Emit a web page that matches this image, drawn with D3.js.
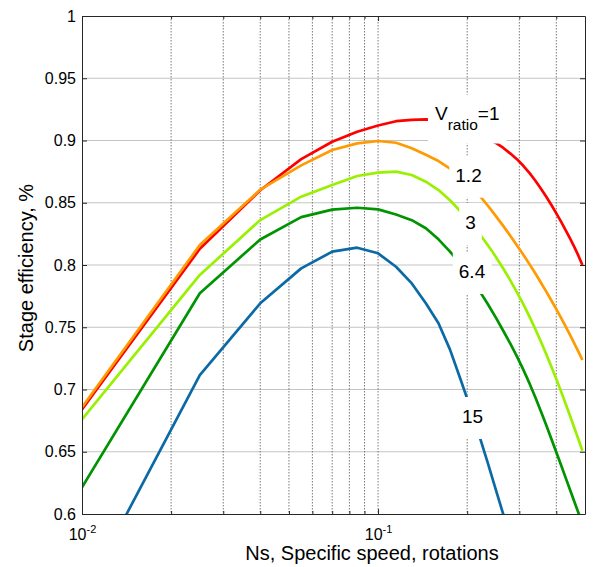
<!DOCTYPE html>
<html>
<head>
<meta charset="utf-8">
<script src="https://cdn.jsdelivr.net/npm/d3@7"></script>
<style>
  body { margin: 0; background: #fff; }
  svg { display: block; }
  text { font-family: "Liberation Sans", Arial, Helvetica, sans-serif; fill: #000; }
</style>
</head>
<body>
<svg id="chart" width="600" height="567"></svg>
<script>
// Specific speed samples (rotations)
const ns = [0.01, 0.025, 0.04, 0.055, 0.07, 0.085, 0.1, 0.115, 0.13, 0.145, 0.16,
            0.175, 0.19, 0.205, 0.22, 0.235, 0.25, 0.265, 0.28, 0.295, 0.31, 0.325,
            0.34, 0.355, 0.37, 0.385, 0.4, 0.415, 0.43, 0.445, 0.46, 0.475, 0.49];

// Stage efficiency for each velocity ratio
const effRatio1 = [0.684, 0.813, 0.860, 0.885, 0.899, 0.907, 0.912, 0.9155, 0.9165, 0.917, 0.9158,
                   0.9135, 0.911, 0.908, 0.905, 0.9015, 0.898, 0.894, 0.8895, 0.8848, 0.8795, 0.8738,
                   0.8677, 0.8613, 0.8548, 0.8482, 0.8415, 0.8348, 0.828, 0.8213, 0.8145, 0.8075, 0.800];
const effRatio1_2 = [0.6857, 0.816, 0.8605, 0.880, 0.8924, 0.8977, 0.8996, 0.8982, 0.8937, 0.8885, 0.8835,
                     0.8775, 0.871, 0.864, 0.856, 0.8476, 0.8393, 0.8312, 0.8233, 0.8155, 0.808, 0.8005,
                     0.7931, 0.7857, 0.7786, 0.7715, 0.7645, 0.7576, 0.7507, 0.7439, 0.737, 0.7304, 0.7237];
const effRatio3 = [0.676, 0.792, 0.8361, 0.8549, 0.8643, 0.8715, 0.8742, 0.875, 0.8723, 0.8669, 0.8602,
                   0.852, 0.843, 0.834, 0.825, 0.8159, 0.8065, 0.797, 0.7874, 0.7778, 0.7682, 0.7583,
                   0.7484, 0.7383, 0.7283, 0.7183, 0.7084, 0.6985, 0.6886, 0.6789, 0.6693, 0.660, 0.6508];
const effRatio6_4 = [0.6214, 0.7773, 0.8205, 0.8385, 0.8445, 0.846, 0.8447, 0.8405, 0.836, 0.8295, 0.8206,
                     0.8108, 0.8005, 0.7899, 0.7792, 0.7685, 0.7577, 0.747, 0.7366, 0.7262, 0.7155, 0.7047,
                     0.6936, 0.6824, 0.6713, 0.6603, 0.6496, 0.6393, 0.6292, 0.6195, 0.610, 0.601, 0.5922];
const effRatio15 = [0.532, 0.7116, 0.7692, 0.7973, 0.8107, 0.8139, 0.8094, 0.7986, 0.7852, 0.7692, 0.7532,
                    0.732, 0.708, 0.6852, 0.6626, 0.6406, 0.6194, 0.5995, 0.578];

const ratioLabels = ["1", "1.2", "3", "6.4", "15"];

// Axis ticks
const yTicks = [0.6, 0.65, 0.7, 0.75, 0.8, 0.85, 0.9, 0.95, 1];
const yTickLabels = ["0.6", "0.65", "0.7", "0.75", "0.8", "0.85", "0.9", "0.95", "1"];
const xMajorTicks = [0.01, 0.1];
const xMajorExponents = ["-2", "-1"];
const xMinorTicks = [0.02, 0.03, 0.04, 0.05, 0.06, 0.07, 0.08, 0.09, 0.2, 0.3, 0.4];

// ---- styling / layout ----
const seriesValues = [effRatio1, effRatio1_2, effRatio3, effRatio6_4, effRatio15];
const seriesColors = ["#ff0000", "#ff9a00", "#99f000", "#009400", "#0b6aa6"];
// label anchor (x, baseline y) for each curve label
const labelPos = [[435, 119.5], [468.5, 181.7], [470.5, 229], [472, 278], [472.5, 423]];

const plot = { left: 82, top: 16, right: 585, bottom: 514 };

const svg = d3.select("#chart");

const x = d3.scaleLog().domain([0.01, 0.5]).range([plot.left, plot.right]);
const y = d3.scaleLinear().domain([0.6, 1]).range([plot.bottom, plot.top]);

svg.append("defs").append("clipPath").attr("id", "plotClip")
  .append("rect")
  .attr("x", plot.left).attr("y", plot.top)
  .attr("width", plot.right - plot.left).attr("height", plot.bottom - plot.top);

// grid
const grid = svg.append("g");
grid.selectAll("line.hg").data(yTicks.slice(1, -1)).join("line")
  .attr("x1", plot.left).attr("x2", plot.right)
  .attr("y1", d => y(d)).attr("y2", d => y(d))
  .attr("stroke", "#c4c4c4").attr("stroke-width", 1);
grid.selectAll("line.vg").data(xMinorTicks.concat([0.1])).join("line")
  .attr("x1", d => x(d)).attr("x2", d => x(d))
  .attr("y1", plot.top).attr("y2", plot.bottom)
  .attr("stroke", "#6a6a6a").attr("stroke-width", 0.9)
  .attr("stroke-dasharray", "1.5,1.5");

// curves
const line = d3.line().x(d => x(d[0])).y(d => y(d[1]));
const curves = svg.append("g").attr("clip-path", "url(#plotClip)");
seriesValues.forEach((vals, i) => {
  curves.append("path")
    .datum(d3.zip(ns.slice(0, vals.length), vals))
    .attr("d", line)
    .attr("fill", "none")
    .attr("stroke", seriesColors[i])
    .attr("stroke-width", 2.7)
    .attr("stroke-linejoin", "round");
});

// curve labels on white boxes
const labelsG = svg.append("g");
ratioLabels.forEach((lab, i) => {
  const g = labelsG.append("g");
  const rect = g.append("rect").attr("fill", "#fff");
  const t = g.append("text")
    .attr("x", labelPos[i][0]).attr("y", labelPos[i][1])
    .attr("font-size", 19);
  if (i === 0) {
    t.attr("text-anchor", "start");
    t.append("tspan").text("V");
    t.append("tspan").attr("font-size", 15.5).attr("dy", 10).text("ratio");
    t.append("tspan").attr("dy", -10).text("=" + lab);
  } else {
    t.attr("text-anchor", "middle").text(lab);
  }
  const b = t.node().getBBox();
  const padX = i === 0 ? 7 : 6;
  const padTop = i === 0 ? 8 : 9;
  const padBot = i === 0 ? 11 : 12;
  rect.attr("x", b.x - padX).attr("y", b.y - padTop)
    .attr("width", b.width + 2 * padX).attr("height", b.height + padTop + padBot);
});

// axes: inward ticks on all four sides
const yAxisL = d3.axisLeft(y).tickValues(yTicks).tickSizeInner(-5).tickSizeOuter(0).tickPadding(6)
  .tickFormat((d, i) => yTickLabels[i]);
const gL = svg.append("g").attr("transform", `translate(${plot.left},0)`).call(yAxisL);
gL.selectAll("text").attr("font-size", 16).attr("font-family", '"Liberation Sans", Arial, sans-serif');

const yAxisR = d3.axisRight(y).tickValues(yTicks).tickSizeInner(-5).tickSizeOuter(0).tickFormat("");
svg.append("g").attr("transform", `translate(${plot.right},0)`).call(yAxisR);

const xAxisB = d3.axisBottom(x).tickValues(xMajorTicks).tickSizeInner(-5).tickSizeOuter(0).tickPadding(15)
  .tickFormat(() => "");
const gB = svg.append("g").attr("transform", `translate(0,${plot.bottom})`).call(xAxisB);
gB.selectAll(".tick text").each(function(d, i) {
  const t = d3.select(this).attr("font-size", 16).attr("font-family", '"Liberation Sans", Arial, sans-serif');
  t.append("tspan").text("10");
  t.append("tspan").attr("font-size", 11).attr("dy", -7).text(xMajorExponents[i]);
});
const xMinorB = d3.axisBottom(x).tickValues(xMinorTicks).tickSizeInner(-3).tickSizeOuter(0).tickFormat("");
svg.append("g").attr("transform", `translate(0,${plot.bottom})`).call(xMinorB).select(".domain").remove();

const xAxisT = d3.axisTop(x).tickValues(xMajorTicks).tickSizeInner(-5).tickSizeOuter(0).tickFormat("");
svg.append("g").attr("transform", `translate(0,${plot.top})`).call(xAxisT);
const xMinorT = d3.axisTop(x).tickValues(xMinorTicks).tickSizeInner(-3).tickSizeOuter(0).tickFormat("");
svg.append("g").attr("transform", `translate(0,${plot.top})`).call(xMinorT).select(".domain").remove();

svg.selectAll(".domain, .tick line").attr("stroke", "#262626");

// axis titles
svg.append("text")
  .attr("x", 372).attr("y", 560)
  .attr("text-anchor", "middle").attr("font-size", 20)
  .text("Ns, Specific speed, rotations");
svg.append("text")
  .attr("transform", "translate(33,268) rotate(-90)")
  .attr("text-anchor", "middle").attr("font-size", 20)
  .text("Stage efficiency, %");
</script>
</body>
</html>
